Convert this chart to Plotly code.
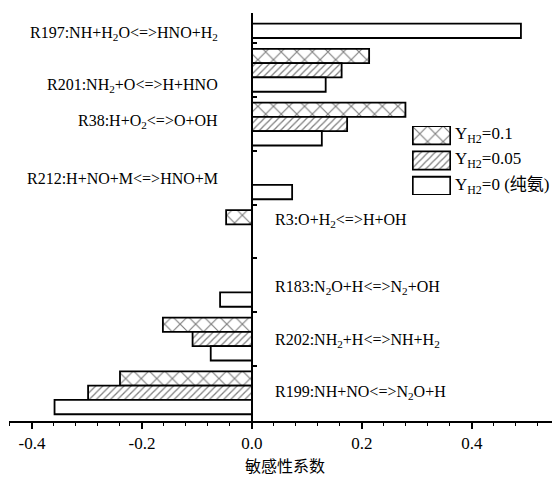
import plotly.graph_objects as go

# ---------------- data ----------------
reactions = [
    "R197:NH+H<sub>2</sub>O<=>HNO+H<sub>2</sub>",
    "R201:NH<sub>2</sub>+O<=>H+HNO",
    "R38:H+O<sub>2</sub><=>O+OH",
    "R212:H+NO+M<=>HNO+M",
    "R3:O+H<sub>2</sub><=>H+OH",
    "R183:N<sub>2</sub>O+H<=>N<sub>2</sub>+OH",
    "R202:NH<sub>2</sub>+H<=>NH+H<sub>2</sub>",
    "R199:NH+NO<=>N<sub>2</sub>O+H",
]
series_names = ["Y<sub>H2</sub>=0.1", "Y<sub>H2</sub>=0.05", "Y<sub>H2</sub>=0 (纯氨)"]
y_h2_01 = [None, 0.213, 0.279, None, -0.047, None, -0.162, -0.240]
y_h2_005 = [None, 0.163, 0.173, None, None, None, -0.108, -0.298]
y_h2_0 = [0.489, 0.134, 0.127, 0.073, None, -0.058, -0.075, -0.359]
x_tickvals = [-0.4, -0.2, 0.0, 0.2, 0.4]
x_ticktext = ["-0.4", "-0.2", "0.0", "0.2", "0.4"]
x_title = "敏感性系数"

# ---------------- layout helpers ----------------
n = len(reactions)
pos = [n - 1 - i for i in range(n)]          # top reaction at highest y
label_side = ["left", "left", "left", "left", "right", "right", "right", "right"]
label_dy = [-0.31, -0.29, 0.04, -0.02, 0.21, -0.05, -0.02, 0.01]

SERIF = "Liberation Serif, Times New Roman, serif"
CJK = "Noto Sans CJK SC"
LINE = dict(color="black", width=1.8)
BW = 0.266

styles = [
    dict(fillcolor="white", pattern=dict(shape="x", size=11, solidity=0.2, fgcolor="black", bgcolor="white")),
    dict(fillcolor="white", pattern=dict(shape="/", size=5, solidity=0.25, fgcolor="black", bgcolor="white")),
    dict(fillcolor="white", pattern=None),
]
offsets = [BW * 0.5, -BW * 0.5, -BW * 1.5]
values = [y_h2_01, y_h2_005, y_h2_0]

fig = go.Figure()
for k in range(3):
    marker = dict(color=styles[k]["fillcolor"], line=LINE)
    if styles[k]["pattern"]:
        marker["pattern"] = styles[k]["pattern"]
    fig.add_trace(go.Bar(
        x=values[k], y=pos, orientation="h", width=BW, offset=offsets[k],
        marker=marker, name=series_names[k], showlegend=False,
        xaxis="x", yaxis="y",
    ))

# custom legend boxes drawn on a small helper axis
leg_pos = [2, 1, 0]
for k in range(3):
    marker = dict(color=styles[k]["fillcolor"], line=LINE)
    if styles[k]["pattern"]:
        marker["pattern"] = styles[k]["pattern"]
    fig.add_trace(go.Bar(
        x=[1], base=[0], y=[leg_pos[k]], orientation="h", width=0.72,
        marker=marker, showlegend=False, hoverinfo="skip",
        xaxis="x2", yaxis="y2",
    ))

annotations = []
for i, r in enumerate(reactions):
    yv = pos[i] + label_dy[i]
    if label_side[i] == "left":
        annotations.append(dict(x=-0.058, y=yv, xref="x", yref="y", text=r, showarrow=False,
                                xanchor="right", yanchor="middle",
                                font=dict(family=SERIF, size=16, color="black")))
    else:
        annotations.append(dict(x=0.038, y=yv, xref="x", yref="y", text=r, showarrow=False,
                                xanchor="left", yanchor="middle",
                                font=dict(family=SERIF, size=16, color="black")))

leg_text_y = [0.701, 0.640, 0.576]
for k in range(3):
    annotations.append(dict(x=0.8177, y=leg_text_y[k], xref="paper", yref="paper",
                            text=series_names[k], showarrow=False, xanchor="left", yanchor="middle",
                            font=dict(family=SERIF + ", " + CJK, size=17, color="black")))

annotations.append(dict(x=0.508, y=-0.108, xref="paper", yref="paper", text=x_title,
                        showarrow=False, xanchor="center", yanchor="middle",
                        font=dict(family=CJK, size=16, color="black")))

fig.update_layout(
    width=552, height=477,
    margin=dict(l=9, r=0, t=13, b=56),
    paper_bgcolor="white", plot_bgcolor="white",
    barmode="overlay",
    showlegend=False,
    annotations=annotations,
    xaxis=dict(
        range=[-0.4418, 0.5455], tickvals=x_tickvals, ticktext=x_ticktext,
        showgrid=False, zeroline=False, showline=True, linecolor="black", linewidth=1.5,
        ticks="outside", ticklen=6, tickwidth=1.5, tickcolor="black",
        minor=dict(dtick=0.04, tick0=0, ticks="outside", ticklen=3.5, tickwidth=1.2, tickcolor="black"),
        tickfont=dict(family=SERIF, size=17, color="black"),
        anchor="y", fixedrange=True,
    ),
    yaxis=dict(
        range=[-0.525, 7.066], showgrid=False, zeroline=False,
        showline=True, linecolor="black", linewidth=1.5,
        anchor="free", position=0.4475,
        tickvals=[p + 0.5 for p in range(n - 1)], ticks="inside", ticklen=4, tickwidth=1.5,
        tickcolor="black", showticklabels=False, fixedrange=True,
    ),
    xaxis2=dict(domain=[0.7422, 0.8140], range=[-0.02, 1.02], visible=False, anchor="y2", fixedrange=True),
    yaxis2=dict(domain=[0.5539, 0.7230], range=[-0.36, 2.36], visible=False, anchor="x2", fixedrange=True),
)

fig.write_html("out.html")
